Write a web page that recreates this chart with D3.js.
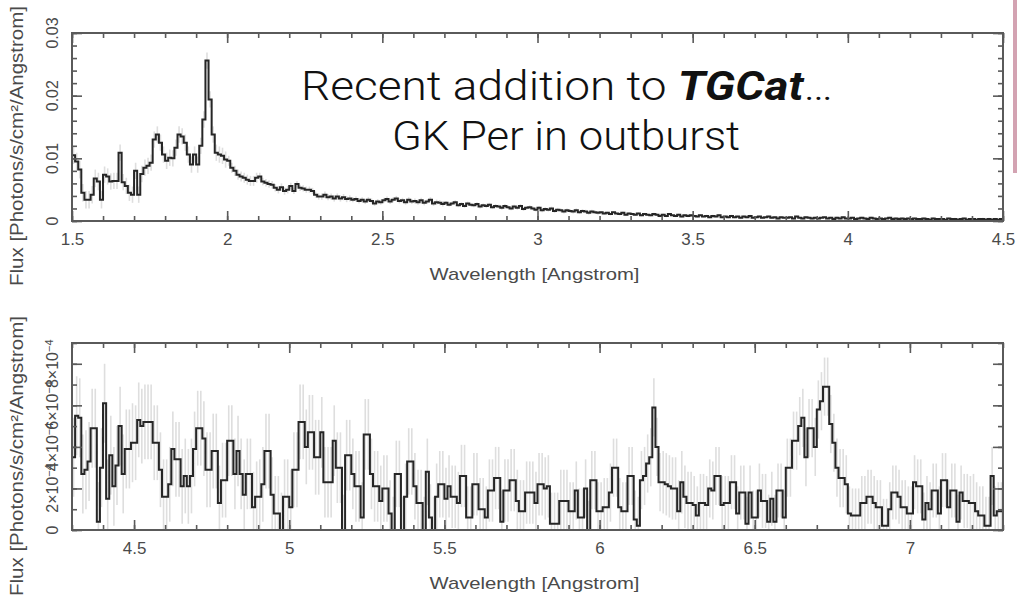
<!DOCTYPE html>
<html>
<head>
<meta charset="utf-8">
<script src="https://cdn.jsdelivr.net/npm/d3@7"></script>
<style>
  html, body { margin: 0; padding: 0; background: #fff; }
  svg { display: block; }
</style>
</head>
<body>
<script>
// flux per 0.01 Angstrom bin, in units of 1e-4 photons/s/cm2/Angstrom
const topStart = 1.5;
const topFlux = [
  105, 95, 82, 45, 34, 34, 42, 68, 63, 34,
  74, 71, 63, 64, 64, 109, 62, 56, 45, 42,
  80, 42, 75, 85, 88, 93, 130, 138, 125, 106,
  96, 101, 100, 117, 138, 135, 125, 106, 90, 106,
  90, 120, 162, 256, 194, 138, 109, 106, 104, 98,
  96, 85, 80, 74, 71, 69, 66, 64, 64, 69,
  71, 63, 61, 59, 58, 53, 50, 54, 48, 50,
  56, 48, 59, 53, 52, 50, 50, 48, 42, 39,
  39, 42, 38, 39, 36, 39, 36, 38, 35, 36,
  34, 35, 32, 34, 31, 34, 32, 28, 31, 30,
  33, 35, 31, 34, 36, 32, 33, 30, 34, 31,
  32, 30, 33, 29, 31, 34, 28, 30, 29, 27,
  29, 26, 28, 30, 25, 27, 24, 28, 26, 25,
  27, 23, 25, 24, 26, 22, 24, 23, 21, 24,
  22, 20, 23, 21, 24, 19, 21, 22, 20, 18,
  21, 17, 19, 18, 20, 16, 18, 17, 15, 17,
  16, 15, 17, 14, 16, 15, 13, 15, 14, 13,
  14, 12, 13, 11, 14, 12, 11, 13, 10, 12,
  11, 10, 12, 9, 11, 10, 9, 11, 10, 8,
  10, 8, 11, 9, 8, 10, 7, 9, 8, 9,
  8, 7, 9, 7, 8, 6, 8, 7, 9, 6,
  7, 6, 8, 6, 7, 5, 7, 6, 8, 5,
  6, 7, 5, 6, 7, 5, 6, 4, 6, 5,
  5, 6, 4, 7, 5, 4, 6, 5, 4, 5,
  4, 5, 6, 4, 5, 3, 5, 4, 6, 4,
  4, 5, 3, 4, 5, 4, 3, 5, 4, 3,
  4, 3, 4, 5, 3, 4, 3, 4, 3, 4,
  3, 4, 3, 3, 4, 3, 2, 4, 3, 3,
  3, 2, 4, 3, 3, 2, 3, 4, 2, 3,
  3, 2, 3, 3, 2, 3, 2, 3, 2, 3
];
// error half-length per 0.1 Angstrom stretch, same units
const topErr = [14, 13, 13, 13, 13, 8, 6, 5, 5, 4, 4, 4, 3, 3, 3, 3, 3, 2, 2, 2, 2, 2, 2, 2, 2, 2, 2, 2, 2, 2];

const bottomStart = 4.3;
const bottomFlux = [
  3.5, 5.5, 5.4, 2.7, 2.9, 3.3, 4.9, 4.9, 0.4, 3.0,
  6.1, 1.5, 3.6, 2.1, 3.1, 5.0, 2.7, 3.9, 3.9, 4.2,
  4.2, 5.3, 5.0, 5.2, 5.2, 5.2, 4.2, 4.2, 2.9, 1.6,
  1.6, 2.2, 3.9, 3.4, 3.4, 2.1, 2.6, 2.1, 2.6, 3.9,
  4.9, 4.9, 4.4, 2.9, 2.9, 3.8, 3.8, 1.3, 2.4, 2.4,
  4.3, 4.3, 2.7, 3.8, 2.7, 1.7, 2.7, 2.7, 1.1, 1.6,
  1.6, 2.2, 3.8, 3.8, 1.7, 0.8, 0.8, 0.0, 1.6, 1.6,
  1.1, 2.9, 2.9, 5.2, 5.2, 4.0, 4.7, 4.7, 3.5, 3.5,
  4.7, 2.3, 2.3, 2.3, 4.3, 3.0, 3.0, 0.0, 3.6, 3.6,
  2.7, 2.1, 2.1, 0.6, 4.6, 4.6, 2.7, 2.1, 2.1, 1.4,
  2.0, 2.0, 0.8, 0.0, 2.7, 2.7, 0.0, 1.6, 3.3, 3.3,
  2.1, 1.3, 1.3, 0.0, 2.8, 0.6, 0.0, 1.6, 2.2, 2.2,
  1.5, 2.1, 1.6, 1.6, 1.3, 2.6, 2.6, 0.6, 0.6, 2.2,
  2.2, 1.0, 1.0, 0.6, 1.9, 1.9, 2.5, 2.5, 0.4, 1.9,
  1.9, 2.4, 2.4, 1.4, 0.9, 0.9, 1.8, 1.8, 1.8, 1.3,
  2.2, 2.2, 2.0, 2.1, 0.3, 0.3, 0.3, 1.4, 1.4, 1.4,
  0.9, 0.9, 1.9, 0.6, 0.6, 2.0, 0.0, 2.4, 2.4, 0.9,
  0.9, 1.1, 1.1, 1.8, 3.0, 3.0, 1.1, 0.9, 0.9, 2.6,
  2.6, 0.5, 0.2, 2.4, 2.6, 3.2, 3.5, 5.9, 4.0, 2.3,
  2.3, 2.2, 2.1, 2.0, 2.0, 0.9, 2.3, 1.6, 1.3, 1.3,
  1.2, 0.7, 1.3, 1.3, 1.2, 2.0, 1.9, 2.6, 2.6, 1.2,
  1.3, 1.3, 2.3, 2.3, 0.8, 1.8, 1.8, 0.3, 1.8, 0.6,
  0.6, 1.9, 1.4, 1.4, 0.4, 1.5, 0.4, 1.9, 1.9, 0.6,
  3.0, 3.0, 4.3, 4.3, 5.0, 5.4, 3.5, 4.9, 4.9, 4.0,
  5.8, 6.2, 6.9, 6.9, 5.1, 4.2, 3.0, 2.5, 2.5, 2.2,
  0.8, 0.7, 0.7, 0.7, 1.3, 1.3, 1.6, 1.6, 1.3, 1.1,
  1.1, 0.2, 0.2, 1.0, 1.8, 1.8, 1.6, 1.1, 1.1, 0.8,
  0.8, 2.3, 2.1, 2.1, 0.5, 1.3, 1.0, 1.9, 1.9, 0.8,
  2.4, 2.4, 1.1, 1.9, 1.9, 0.4, 1.8, 1.4, 1.4, 1.3,
  1.3, 0.9, 0.7, 0.7, 0.2, 0.2, 2.6, 0.7, 0.9, 0.9
];
const bottomErr = [1.9, 1.9, 1.8, 1.8, 1.8, 1.7, 1.8, 1.8, 1.7, 1.7, 1.6, 1.6, 1.5, 1.5, 1.5, 1.5, 1.4, 1.4, 1.4, 1.5, 1.4, 1.3, 1.3, 1.4, 1.4, 1.3, 1.3, 1.3, 1.3, 1.4];

const binWidth = 0.01;
const unit = 1e-4;

const topMajorX = [1.5, 2, 2.5, 3, 3.5, 4, 4.5];
const topXLabels = ["1.5", "2", "2.5", "3", "3.5", "4", "4.5"];
const topMajorY = [0, 0.01, 0.02, 0.03];
const topYLabels = ["0", "0.01", "0.02", "0.03"];

const bottomMajorX = [4.5, 5, 5.5, 6, 6.5, 7];
const bottomXLabels = ["4.5", "5", "5.5", "6", "6.5", "7"];
const bottomMajorY = [0, 2e-4, 4e-4, 6e-4, 8e-4];
const bottomYLabels = ["0", "2×10", "4×10", "6×10", "8×10"];

const xTitle = "Wavelength [Angstrom]";
const yTitle = "Flux [Photons/s/cm²/Angstrom]";

const W = 1017, H = 597;
const svg = d3.select("body").append("svg")
  .attr("width", W)
  .attr("height", H);

const frameColor = "#5a5a5a";
const labelColor = "#4a4a4a";
const labelFont = "'Liberation Sans', Arial, sans-serif";

const drawPanel = (p) => {
  const x = d3.scaleLinear().domain(p.xDomain).range([p.left, p.right]);
  const y = d3.scaleLinear().domain(p.yDomain).range([p.bottom, p.top]);

  const clipId = "clip-" + p.name;
  svg.append("clipPath").attr("id", clipId)
    .append("rect")
    .attr("x", p.left).attr("y", p.top)
    .attr("width", p.right - p.left).attr("height", p.bottom - p.top);

  const bins = p.flux.map((v, i) => ({
    x0: p.start + i * binWidth,
    v: v * unit,
    e: p.err[Math.floor(i / 10)] * unit
  }));

  const plot = svg.append("g").attr("clip-path", `url(#${clipId})`);

  // error bars
  plot.selectAll("line.err")
    .data(bins)
    .join("line")
    .attr("class", "err")
    .attr("x1", d => x(d.x0 + binWidth / 2))
    .attr("x2", d => x(d.x0 + binWidth / 2))
    .attr("y1", d => y(Math.max(0, d.v - d.e)))
    .attr("y2", d => y(d.v + d.e))
    .attr("stroke", "#dedede")
    .attr("stroke-width", 1.6);

  // histogram steps
  const pts = bins.map(d => [d.x0, d.v]);
  pts.push([p.start + bins.length * binWidth, bins[bins.length - 1].v]);
  const line = d3.line()
    .x(d => x(d[0]))
    .y(d => y(d[1]))
    .curve(d3.curveStepAfter);
  plot.append("path")
    .datum(pts)
    .attr("fill", "none")
    .attr("stroke", "#262626")
    .attr("stroke-width", 2)
    .attr("d", line);

  // ticks on all four sides, pointing inward
  const addAxis = (axis, tx, ty) => {
    const g = svg.append("g")
      .attr("transform", `translate(${tx},${ty})`)
      .call(axis);
    g.select(".domain").remove();
    g.selectAll("line").attr("stroke", frameColor).attr("stroke-width", 1.6);
    return g;
  };
  const xMinor = d3.range(Math.round(p.xDomain[0] * 10), Math.round(p.xDomain[1] * 10) + 1).map(d => d / 10);

  const bx = addAxis(d3.axisBottom(x).tickValues(p.majorX).tickSizeInner(-10).tickSizeOuter(0)
    .tickPadding(12).tickFormat((d, i) => p.xLabels[i]), 0, p.bottom);
  bx.selectAll("text")
    .attr("fill", labelColor)
    .attr("font-family", labelFont)
    .attr("font-size", 17);
  addAxis(d3.axisBottom(x).tickValues(xMinor).tickSizeInner(-5).tickSizeOuter(0).tickFormat(""), 0, p.bottom);
  addAxis(d3.axisTop(x).tickValues(p.majorX).tickSizeInner(-10).tickSizeOuter(0).tickFormat(""), 0, p.top);
  addAxis(d3.axisTop(x).tickValues(xMinor).tickSizeInner(-5).tickSizeOuter(0).tickFormat(""), 0, p.top);

  addAxis(d3.axisLeft(y).tickValues(p.majorY).tickSizeInner(-10).tickSizeOuter(0).tickFormat(""), p.left, 0);
  addAxis(d3.axisLeft(y).tickValues(p.minorY).tickSizeInner(-5).tickSizeOuter(0).tickFormat(""), p.left, 0);
  addAxis(d3.axisRight(y).tickValues(p.majorY).tickSizeInner(-10).tickSizeOuter(0).tickFormat(""), p.right, 0);
  addAxis(d3.axisRight(y).tickValues(p.minorY).tickSizeInner(-5).tickSizeOuter(0).tickFormat(""), p.right, 0);

  // frame
  svg.append("rect")
    .attr("x", p.left).attr("y", p.top)
    .attr("width", p.right - p.left).attr("height", p.bottom - p.top)
    .attr("fill", "none")
    .attr("stroke", frameColor)
    .attr("stroke-width", 2);

  // rotated y tick labels
  const yl = svg.append("g")
    .attr("fill", labelColor)
    .attr("font-family", labelFont)
    .attr("font-size", 16);
  p.majorY.forEach((v, i) => {
    const t = yl.append("text")
      .attr("transform", `translate(${p.left - 20},${y(v)}) rotate(-90)`)
      .attr("text-anchor", "middle")
      .attr("dy", "0.36em")
      .text(p.yLabels[i]);
    if (p.yExp && i > 0) {
      t.append("tspan").attr("dy", "-0.45em").attr("font-size", 11).text("−4");
    }
  });

  // axis titles
  svg.append("text")
    .attr("x", (p.left + p.right) / 2 - 3)
    .attr("y", p.bottom + 59)
    .attr("text-anchor", "middle")
    .attr("fill", labelColor)
    .attr("font-family", labelFont)
    .attr("font-size", 17)
    .attr("textLength", 210)
    .attr("lengthAdjust", "spacingAndGlyphs")
    .text(xTitle);

  svg.append("text")
    .attr("transform", `translate(23,${p.yTitleY}) rotate(-90)`)
    .attr("text-anchor", "middle")
    .attr("fill", labelColor)
    .attr("font-family", labelFont)
    .attr("font-size", 18)
    .attr("textLength", 280)
    .attr("lengthAdjust", "spacingAndGlyphs")
    .text(yTitle);
};

drawPanel({
  name: "top", left: 72, right: 1003, top: 33, bottom: 221,
  xDomain: [1.5, 4.5], yDomain: [0, 0.03],
  start: topStart, flux: topFlux, err: topErr,
  majorX: topMajorX, xLabels: topXLabels,
  majorY: topMajorY, minorY: d3.range(0, 16).map(d => d * 0.002), yLabels: topYLabels,
  yTitleY: 146
});

drawPanel({
  name: "bottom", left: 72, right: 1003, top: 343, bottom: 530,
  xDomain: [4.3, 7.3], yDomain: [0, 9e-4],
  start: bottomStart, flux: bottomFlux, err: bottomErr,
  majorX: bottomMajorX, xLabels: bottomXLabels,
  majorY: bottomMajorY, minorY: d3.range(0, 10).map(d => d * 1e-4), yLabels: bottomYLabels, yExp: true,
  yTitleY: 456
});

// annotation
const note = svg.append("g")
  .attr("font-family", "'Helvetica Neue', Roboto, 'Open Sans', Lato, sans-serif")
  .attr("font-weight", 300)
  .attr("font-size", 40)
  .attr("fill", "#111")
  .attr("text-anchor", "middle");
const l1 = note.append("text").attr("x", 567).attr("y", 100)
  .attr("textLength", 532).attr("lengthAdjust", "spacingAndGlyphs");
l1.append("tspan").text("Recent addition to ");
l1.append("tspan").attr("font-weight", 700).attr("font-style", "italic").text("TGCat");
l1.append("tspan").text("…");
note.append("text").attr("x", 566).attr("y", 150)
  .attr("textLength", 348).attr("lengthAdjust", "spacingAndGlyphs")
  .text("GK Per in outburst");

// pink side bar
svg.append("rect")
  .attr("x", 1013).attr("y", 0)
  .attr("width", 4).attr("height", 173)
  .attr("fill", "#d3a3b2");
</script>
</body>
</html>
